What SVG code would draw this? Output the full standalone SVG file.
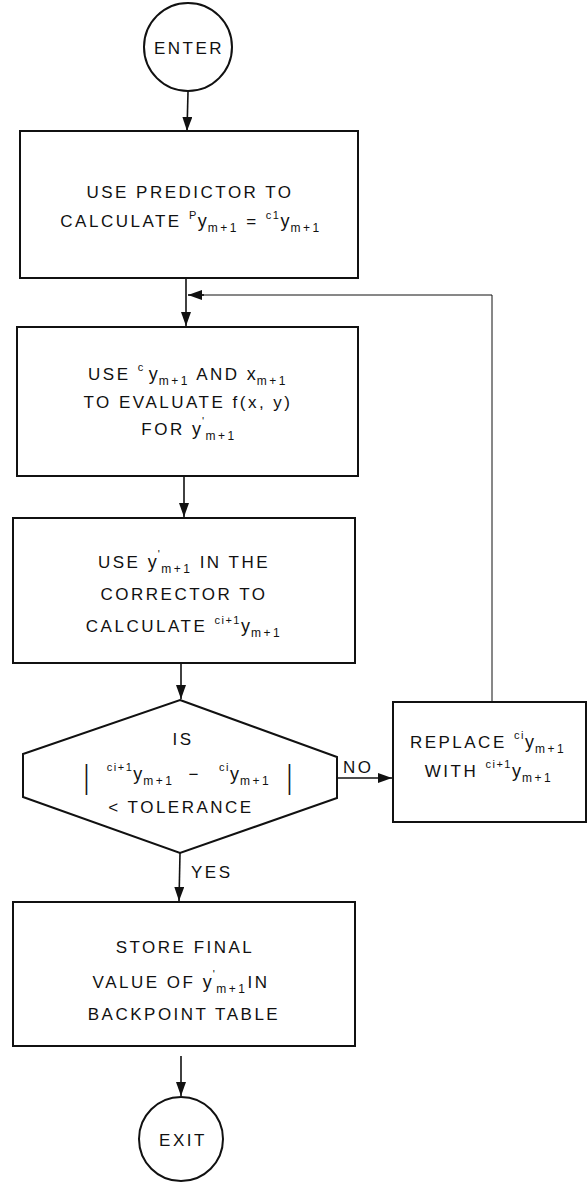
<svg xmlns="http://www.w3.org/2000/svg" width="588" height="1182" viewBox="0 0 588 1182">
  <style>
    .shape { fill: #fff; stroke: #111; stroke-width: 2; }
    .line { fill: none; stroke: #111; stroke-width: 1.6; }
    .thin { fill: none; stroke: #111; stroke-width: 1; }
    .t { font-family: "Liberation Sans", Arial, sans-serif; font-size: 17px; letter-spacing: 2.5px; fill: #111; }
    .s { font-size: 12px; letter-spacing: 2.5px; }
    .p { font-size: 11px; letter-spacing: 1.5px; }
    .y { font-size: 18px; letter-spacing: 1px; }
    .bar { font-family: "Liberation Sans", Arial, sans-serif; font-size: 34px; fill: #111; }
  </style>
  <defs>
    <marker id="arr" viewBox="0 0 14 10" refX="14" refY="5" markerWidth="14" markerHeight="10" markerUnits="userSpaceOnUse" orient="auto">
      <path d="M0,0 L14,5 L0,10 Z" fill="#111"/>
    </marker>
  </defs>
  <rect width="588" height="1182" fill="#fff"/>

  <!-- flow lines -->
  <g id="connectors">
    <line class="line" x1="188" y1="92" x2="187" y2="131" marker-end="url(#arr)"/>
    <line class="line" x1="186" y1="278" x2="186" y2="326" marker-end="url(#arr)"/>
    <polyline class="thin" points="492,702 492,295 196,295"/>
    <line class="line" x1="204" y1="295" x2="188" y2="295" marker-end="url(#arr)"/>
    <line class="line" x1="184" y1="476" x2="184" y2="517" marker-end="url(#arr)"/>
    <line class="line" x1="181" y1="663" x2="181" y2="699" marker-end="url(#arr)"/>
    <line class="line" x1="180" y1="853" x2="179" y2="901" marker-end="url(#arr)"/>
    <line class="line" x1="337" y1="778" x2="392" y2="778" marker-end="url(#arr)"/>
    <line class="line" x1="181" y1="1056" x2="181" y2="1096" marker-end="url(#arr)"/>
    <text class="t" x="343" y="773">NO</text>
    <text class="t" x="191" y="878">YES</text>
  </g>

  <g id="enter">
    <circle class="shape" cx="188" cy="47" r="44"/>
    <text class="t" x="189" y="54" text-anchor="middle">ENTER</text>
  </g>

  <g id="predict">
    <rect class="shape" x="20" y="131" width="338" height="147"/>
    <text class="t" x="190" y="198" text-anchor="middle">USE PREDICTOR TO</text>
    <text class="t" x="191" y="227" text-anchor="middle">CALCULATE <tspan class="p" dy="-8">P</tspan><tspan class="y" dy="8">y</tspan><tspan class="s" dy="5">m+1</tspan><tspan dy="-5"> = </tspan><tspan class="p" dy="-8">c1</tspan><tspan class="y" dy="8">y</tspan><tspan class="s" dy="5">m+1</tspan></text>
  </g>

  <g id="evaluate">
    <rect class="shape" x="17" y="327" width="341" height="149"/>
    <text class="t" x="188" y="380" text-anchor="middle">USE <tspan class="p" dy="-9">c</tspan><tspan class="y" dx="4" dy="9">y</tspan><tspan class="s" dy="5">m+1</tspan><tspan dy="-5"> AND </tspan><tspan class="y">x</tspan><tspan class="s" dy="5">m+1</tspan></text>
    <text class="t" x="188" y="408" text-anchor="middle">TO EVALUATE f(x, y)</text>
    <text class="t" x="189" y="435" text-anchor="middle">FOR <tspan class="y">y</tspan><tspan class="p" dy="-10">'</tspan><tspan class="s" dy="15">m+1</tspan></text>
  </g>

  <g id="correct">
    <rect class="shape" x="13" y="518" width="342" height="145"/>
    <text class="t" x="184" y="568" text-anchor="middle">USE <tspan class="y">y</tspan><tspan class="p" dy="-10">'</tspan><tspan class="s" dy="15">m+1</tspan><tspan dy="-5"> IN THE</tspan></text>
    <text class="t" x="184" y="600" text-anchor="middle">CORRECTOR TO</text>
    <text class="t" x="184" y="632" text-anchor="middle">CALCULATE <tspan class="p" dy="-8">ci+1</tspan><tspan class="y" dy="8">y</tspan><tspan class="s" dy="5">m+1</tspan></text>
  </g>

  <g id="test">
    <polygon class="shape" points="180,700 337,757 337,798 180,853 23,797 23,754"/>
    <text class="t" x="183" y="745" text-anchor="middle">IS</text>
    <text class="bar" transform="translate(84,788) scale(0.55,1)">|</text>
    <text class="bar" transform="translate(287,788) scale(0.55,1)">|</text>
    <text class="t" x="189" y="780" text-anchor="middle"><tspan class="p" dy="-9">ci+1</tspan><tspan class="y" dy="9">y</tspan><tspan class="s" dy="5">m+1</tspan><tspan dx="14" dy="-5">−</tspan><tspan class="p" dx="18" dy="-9">ci</tspan><tspan class="y" dy="9">y</tspan><tspan class="s" dy="5">m+1</tspan></text>
    <text class="t" x="181" y="813" text-anchor="middle">&lt; TOLERANCE</text>
  </g>

  <g id="replace">
    <rect class="shape" x="393" y="702" width="193" height="120"/>
    <text class="t" x="488" y="748" text-anchor="middle">REPLACE <tspan class="p" dy="-9">ci</tspan><tspan class="y" dy="9">y</tspan><tspan class="s" dy="5">m+1</tspan></text>
    <text class="t" x="489" y="777" text-anchor="middle">WITH <tspan class="p" dy="-9">ci+1</tspan><tspan class="y" dy="9">y</tspan><tspan class="s" dy="5">m+1</tspan></text>
  </g>

  <g id="store">
    <rect class="shape" x="13" y="902" width="342" height="144"/>
    <text class="t" x="185" y="953" text-anchor="middle">STORE FINAL</text>
    <text class="t" x="181" y="988" text-anchor="middle">VALUE OF <tspan class="y">y</tspan><tspan class="p" dy="-10">'</tspan><tspan class="s" dy="15">m+1</tspan><tspan dy="-5">IN</tspan></text>
    <text class="t" x="184" y="1020" text-anchor="middle">BACKPOINT TABLE</text>
  </g>

  <g id="exit">
    <circle class="shape" cx="181" cy="1139" r="42"/>
    <text class="t" x="183" y="1146" text-anchor="middle">EXIT</text>
  </g>
</svg>
